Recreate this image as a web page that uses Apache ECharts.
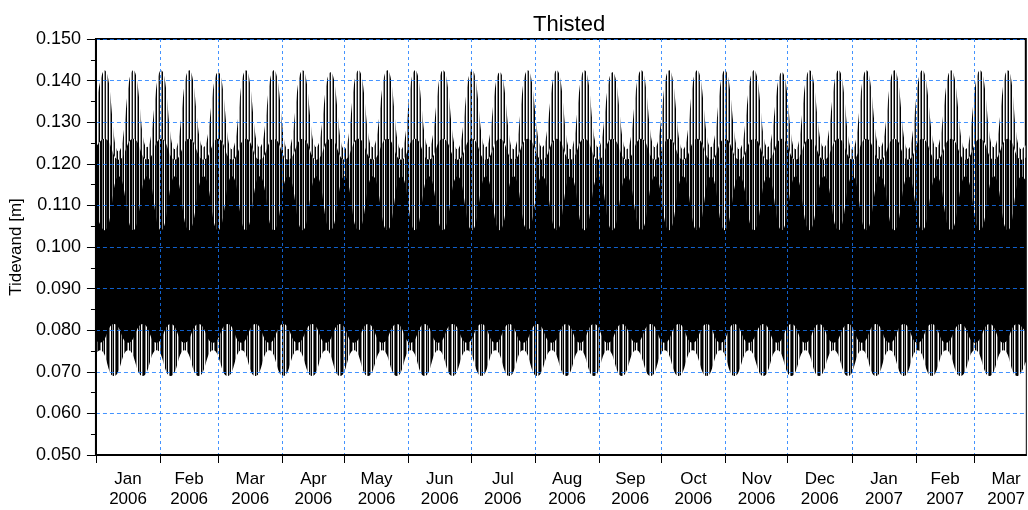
<!DOCTYPE html>
<html>
<head>
<meta charset="utf-8">
<script src="https://cdn.jsdelivr.net/npm/echarts@6/dist/echarts.min.js"></script>
<style>
html,body{margin:0;padding:0;background:#fff;}
#chart{width:1028px;height:510px;}
</style>
</head>
<body>
<div id="chart"></div>
<script>
// x values are days since 1 Jan 2006
const monthStartDays = [0,31,59,90,120,151,181,212,243,273,304,334,365,396,424];
const monthLabelDays = [15.5,45,74.5,105,135.5,166,196.5,227.5,258,288.5,319,349.5,380.5,410,439.5];
const monthLabels = ['Jan\n2006','Feb\n2006','Mar\n2006','Apr\n2006','May\n2006','Jun\n2006','Jul\n2006','Aug\n2006','Sep\n2006','Oct\n2006','Nov\n2006','Dec\n2006','Jan\n2007','Feb\n2007','Mar\n2007'];

// Upper envelope nodes: edge, then (spring peak, neap trough) x 33, edge
const upperDays = [0,
  4.1,11.0, 18.0,24.7, 31.5,38.2, 45.0,52.0, 59.0,65.7, 72.4,79.1,
  85.9,92.8, 99.8,106.5, 113.3,120.0, 126.8,133.7, 140.7,147.4, 154.1,160.8,
  167.6,174.6, 181.6,188.3, 195.0,201.7, 208.5,215.5, 222.5,229.2, 235.9,242.6,
  249.4,256.3, 263.3,270.0, 276.8,283.5, 290.3,297.0, 303.7,310.7, 317.7,324.4,
  331.2,337.9, 344.6,351.6, 358.6,365.3, 372.0,378.7, 385.5,392.2, 399.0,405.9,
  412.9,419.9, 426.9,433.6, 440.3,447.0,
  449];
const upperOuter = [0.134,
  0.1425,0.123, 0.1425,0.124, 0.1425,0.1235, 0.1425,0.124, 0.142,0.1235, 0.1425,0.124,
  0.1425,0.1235, 0.1425,0.124, 0.142,0.1235, 0.1425,0.124, 0.1425,0.1235, 0.1425,0.124,
  0.1425,0.1235, 0.1425,0.124, 0.142,0.1235, 0.1425,0.124, 0.1425,0.1235, 0.1425,0.124,
  0.142,0.1235, 0.1425,0.124, 0.1425,0.1235, 0.1425,0.124, 0.1425,0.1235, 0.1425,0.124,
  0.142,0.1235, 0.1425,0.124, 0.1425,0.1235, 0.1425,0.124, 0.1425,0.1235, 0.1425,0.124,
  0.1425,0.1235, 0.1425,0.124, 0.1425,0.1235,
  0.1245];
const upperMid = [0.124,
  0.126,0.121, 0.126,0.121, 0.126,0.121, 0.126,0.121, 0.126,0.121, 0.126,0.121,
  0.126,0.121, 0.126,0.121, 0.126,0.121, 0.126,0.121, 0.126,0.121, 0.126,0.121,
  0.126,0.121, 0.126,0.121, 0.126,0.121, 0.126,0.121, 0.126,0.121, 0.126,0.121,
  0.126,0.121, 0.126,0.121, 0.126,0.121, 0.126,0.121, 0.126,0.121, 0.126,0.121,
  0.126,0.121, 0.126,0.121, 0.126,0.121, 0.126,0.121, 0.126,0.121, 0.126,0.121,
  0.126,0.121, 0.126,0.121, 0.126,0.121,
  0.1215];
const upperInner = [0.108,
  0.104,0.117, 0.104,0.117, 0.104,0.117, 0.104,0.117, 0.104,0.117, 0.104,0.117,
  0.104,0.117, 0.104,0.117, 0.104,0.117, 0.104,0.117, 0.104,0.117, 0.104,0.117,
  0.104,0.117, 0.104,0.117, 0.104,0.117, 0.104,0.117, 0.104,0.117, 0.104,0.117,
  0.104,0.117, 0.104,0.117, 0.104,0.117, 0.104,0.117, 0.104,0.117, 0.104,0.117,
  0.104,0.117, 0.104,0.117, 0.104,0.117, 0.104,0.117, 0.104,0.117, 0.104,0.117,
  0.104,0.117, 0.104,0.117, 0.104,0.117,
  0.116];

// Lower envelope nodes: edge, then (neap, spring low) x 33, edge
const lowerDays = [0,
  1.9,8.7, 15.6,22.6, 29.3,36.1, 42.8,49.6, 56.6,63.6, 70.3,77.0,
  83.7,90.5, 97.4,104.4, 111.1,117.9, 124.6,131.4, 138.3,145.3, 152.0,158.7,
  165.4,172.2, 179.2,186.2, 192.9,199.6, 206.3,213.1, 220.1,227.1, 233.8,240.5,
  247.2,254.0, 260.9,267.9, 274.6,281.4, 288.1,294.9, 301.6,308.3, 315.3,322.3,
  329.0,335.8, 342.5,349.2, 356.2,363.2, 369.9,376.6, 383.3,390.1, 396.8,403.6,
  410.5,417.5, 424.5,431.5, 438.2,444.9,
  449];
const lowerInner = [0.0775,
  0.077,0.0815, 0.077,0.0815, 0.077,0.0815, 0.077,0.0815, 0.077,0.0815, 0.077,0.0815,
  0.077,0.0815, 0.077,0.0815, 0.077,0.0815, 0.077,0.0815, 0.077,0.0815, 0.077,0.0815,
  0.077,0.0815, 0.077,0.0815, 0.077,0.0815, 0.077,0.0815, 0.077,0.0815, 0.077,0.0815,
  0.077,0.0815, 0.077,0.0815, 0.077,0.0815, 0.077,0.0815, 0.077,0.0815, 0.077,0.0815,
  0.077,0.0815, 0.077,0.0815, 0.077,0.0815, 0.077,0.0815, 0.077,0.0815, 0.077,0.0815,
  0.077,0.0815, 0.077,0.0815, 0.077,0.0815,
  0.0795];
const lowerOuter = [0.0745,
  0.0752,0.069, 0.0752,0.069, 0.0752,0.069, 0.0752,0.069, 0.0752,0.069, 0.0752,0.069,
  0.0752,0.069, 0.0752,0.069, 0.0752,0.069, 0.0752,0.069, 0.0752,0.069, 0.0752,0.069,
  0.0752,0.069, 0.0752,0.069, 0.0752,0.069, 0.0752,0.069, 0.0752,0.069, 0.0752,0.069,
  0.0752,0.069, 0.0752,0.069, 0.0752,0.069, 0.0752,0.069, 0.0752,0.069, 0.0752,0.069,
  0.0752,0.069, 0.0752,0.069, 0.0752,0.069, 0.0752,0.069, 0.0752,0.069, 0.0752,0.069,
  0.0752,0.069, 0.0752,0.069, 0.0752,0.069,
  0.0725];

function stripes(cols) {
  const c = document.createElement('canvas');
  c.width = cols.length; c.height = 4;
  const ctx = c.getContext('2d');
  cols.forEach((col, i) => { ctx.fillStyle = col; ctx.fillRect(i, 0, 1, 4); });
  return c;
}
const sparsePat = stripes(['#000','#fff','#7f7f7f','#000','#fff','#9a9a9a','#1a1a1a','#fff','#8a8a8a']);
const densePat  = stripes(['#000','#000','#7f7f7f','#000','#fff','#000','#3a3a3a','#000','#000','#cfcfcf']);
const lowerPat  = stripes(['#000','#7f7f7f','#fff','#000','#909090','#000','#fff','#606060','#000']);

function pairs(days, vals) { return days.map((d, i) => [d, vals[i]]); }
function band(name, days, vals, color, z) {
  return {
    name: name, type: 'line', data: pairs(days, vals), smooth: true,
    showSymbol: false, symbol: 'none', z: z,
    lineStyle: { width: 0, opacity: 0 },
    areaStyle: { color: color, opacity: 1, origin: 'start' },
    silent: true
  };
}

const chart = echarts.init(document.getElementById('chart'), null, { renderer: 'canvas' });
const FONT = '"Liberation Sans", Arial, sans-serif';
const gridColor = 'rgba(20,120,255,0.8)';
chart.setOption({
  animation: false,
  backgroundColor: '#fff',
  title: {
    text: 'Thisted', left: 528, top: 9,
    textStyle: { fontSize: 22, fontWeight: 'normal', color: '#000', fontFamily: FONT }
  },
  grid: { left: 94, right: 1, top: 39, height: 416, show: true, borderColor: '#000', borderWidth: 2, backgroundColor: 'transparent' },
  xAxis: {
    type: 'value', min: 0, max: 449, z: 10,
    axisLine: { show: true, lineStyle: { color: '#000', width: 2 } },
    axisTick: { show: true, customValues: monthStartDays, length: 8, lineStyle: { color: '#000', width: 1 } },
    axisLabel: {
      customValues: monthLabelDays, margin: 14, fontSize: 17, lineHeight: 20, color: '#000', fontFamily: FONT,
      formatter: function (v) {
        let best = 0;
        monthLabelDays.forEach((d, i) => { if (Math.abs(d - v) < Math.abs(monthLabelDays[best] - v)) best = i; });
        return monthLabels[best];
      }
    },
    splitLine: { show: true, lineStyle: { color: gridColor, width: 1, type: [3, 3] } }
  },
  yAxis: {
    type: 'value', min: 0.05, max: 0.15, interval: 0.01, z: 10,
    name: 'Tidevand [m]', nameLocation: 'middle', nameGap: 66,
    nameTextStyle: { fontSize: 17, color: '#000', fontFamily: FONT },
    axisLine: { show: true, lineStyle: { color: '#000', width: 2 } },
    axisTick: { show: true, length: 9, lineStyle: { color: '#000', width: 1 } },
    minorTick: { show: true, splitNumber: 2, length: 5, lineStyle: { color: '#000', width: 1 } },
    axisLabel: { margin: 15, fontSize: 18, color: '#000', fontFamily: FONT, formatter: v => v.toFixed(3) },
    splitLine: { show: true, lineStyle: { color: gridColor, width: 1, type: [4, 3] } }
  },
  series: [
    band('upperOuter', upperDays, upperOuter, { image: sparsePat, repeat: 'repeat' }, 1),
    band('upperMid', upperDays, upperMid, { image: densePat, repeat: 'repeat' }, 2),
    band('upperInner', upperDays, upperInner, '#000', 3),
    band('lowerInner', lowerDays, lowerInner, { image: lowerPat, repeat: 'repeat' }, 4),
    band('lowerOuter', lowerDays, lowerOuter, '#fff', 5)
  ]
});
</script>
</body>
</html>
